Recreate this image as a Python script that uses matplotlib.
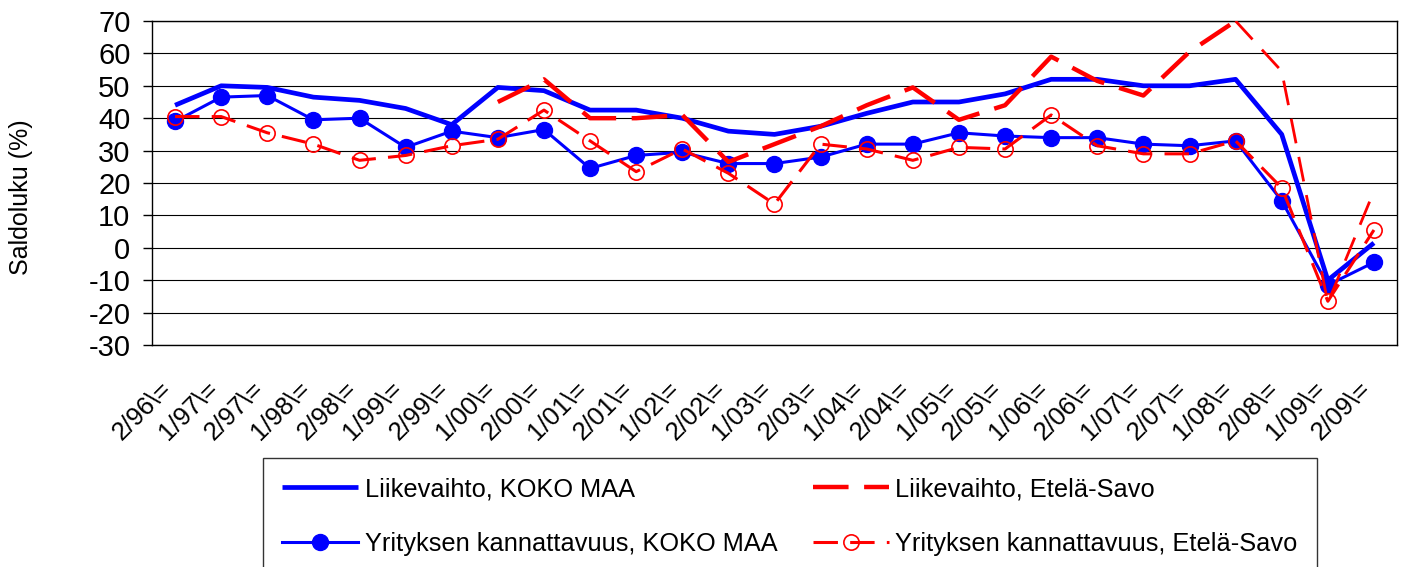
import numpy as np
import matplotlib
matplotlib.use("Agg")
import matplotlib.pyplot as plt
import matplotlib.transforms as mtransforms

plt.rcParams['font.family'] = ['Liberation Sans', 'DejaVu Sans']
plt.rcParams['axes.unicode_minus'] = False

# kaudet (x-akselin luokat)
kaudet = ["2/96\\=", "1/97\\=", "2/97\\=", "1/98\\=", "2/98\\=", "1/99\\=", "2/99\\=",
          "1/00\\=", "2/00\\=", "1/01\\=", "2/01\\=", "1/02\\=", "2/02\\=", "1/03\\=",
          "2/03\\=", "1/04\\=", "2/04\\=", "1/05\\=", "2/05\\=", "1/06\\=", "2/06\\=",
          "1/07\\=", "2/07\\=", "1/08\\=", "2/08\\=", "1/09\\=", "2/09\\="]

liikevaihto_koko = [44, 50, 49.5, 46.5, 45.5, 43, 38, 49.5, 48.5, 42.5, 42.5, 40, 36, 35,
                    37.5, 41.5, 45, 45, 47.5, 52, 52, 50, 50, 52, 35, -10, 1.5]
kannattavuus_koko = [39, 46.5, 47, 39.5, 40, 31, 36, 34, 36.5, 24.5, 28.5, 29.5, 26, 26,
                     28, 32, 32, 35.5, 34.5, 34, 34, 32, 31.5, 33, 14.5, -11.5, -4.5]
liikevaihto_es = [np.nan] * 7 + [45, 52, 40, 40, 41, 26.5, 32, 37.5, 44, 49.5, 39.5, 44,
                                 59, 51.5, 47, 60.5, 70, 54.5, -17, 17.5]
kannattavuus_es = [40.5, 40.5, 35.5, 32, 27, 28.5, 31.5, 33.5, 42.5, 33, 23.5, 30.5, 23,
                   13.5, 32, 30.5, 27, 31, 30.5, 41, 31.5, 29, 29, 33, 18.5, -16.5, 5.5]

x = np.arange(len(kaudet))
W, H = 1403, 567
fig = plt.figure(figsize=(W / 100, H / 100), dpi=100)
ax = fig.add_axes([152 / W, 1 - 345 / H, (1397 - 152) / W, (345 - 21) / H])

l1, = ax.plot(x, liikevaihto_koko, color='#0000ff', lw=3.4, solid_capstyle='butt',
              label='Liikevaihto, KOKO MAA', zorder=3)
l2, = ax.plot(x, kannattavuus_koko, color='#0000ff', lw=2.2, marker='o', ms=11.5,
              label='Yrityksen kannattavuus, KOKO MAA', zorder=3)
# Etelä-Savo liikevaihto: viimeiset jaksot ohuemmalla katkoviivalla
l3, = ax.plot(x[:24], liikevaihto_es[:24], color='#ff0000', lw=3.2, dashes=(8, 3.5),
              label='Liikevaihto, Etelä-Savo', zorder=4)
ax.plot(x[23:], liikevaihto_es[23:], color='#ff0000', lw=2.0, dashes=(9, 5), zorder=4)
l4, = ax.plot(x, kannattavuus_es, color='#ff0000', lw=2.2, dashes=(8, 4), marker='o',
              ms=11, mfc='none', mec='#ff0000', mew=1.2,
              label='Yrityksen kannattavuus, Etelä-Savo', zorder=5)

ax.set_xlim(-0.5, len(kaudet) - 0.5)
ax.set_ylim(-30, 70)
ax.set_yticks(range(-30, 71, 10))
ax.yaxis.grid(True, color='black', lw=0.8)
ax.set_axisbelow(True)
for s in ax.spines.values():
    s.set_color('black')
    s.set_linewidth(1.0)
ax.tick_params(axis='y', length=6.5, width=1, pad=9, labelsize=21)
ax.tick_params(axis='x', length=0, pad=0, labelsize=18.5)
ax.set_xticks(x)
ax.set_xticklabels(kaudet, rotation=45, ha='right', va='center', rotation_mode='anchor')
off = mtransforms.ScaledTranslation(-0.07, -0.40, fig.dpi_scale_trans)
for lab in ax.get_xticklabels():
    lab.set_transform(lab.get_transform() + off)

fig.text(21 / W, 1 - 197 / H, 'Saldoluku (%)', rotation=90, fontsize=18,
         ha='center', va='center')

leg = fig.legend(handles=[l1, l2, l3, l4], ncol=2, loc='upper left',
                 bbox_to_anchor=(263 / W, 1 - 458 / H), bbox_transform=fig.transFigure,
                 borderaxespad=0, fontsize=18.3, frameon=True, fancybox=False,
                 handlelength=3.0, handletextpad=0.25, borderpad=0.75,
                 columnspacing=1.4, labelspacing=1.22)
leg.get_frame().set_edgecolor('black')
leg.get_frame().set_linewidth(1.0)

fig.savefig('out.png', dpi=100)
